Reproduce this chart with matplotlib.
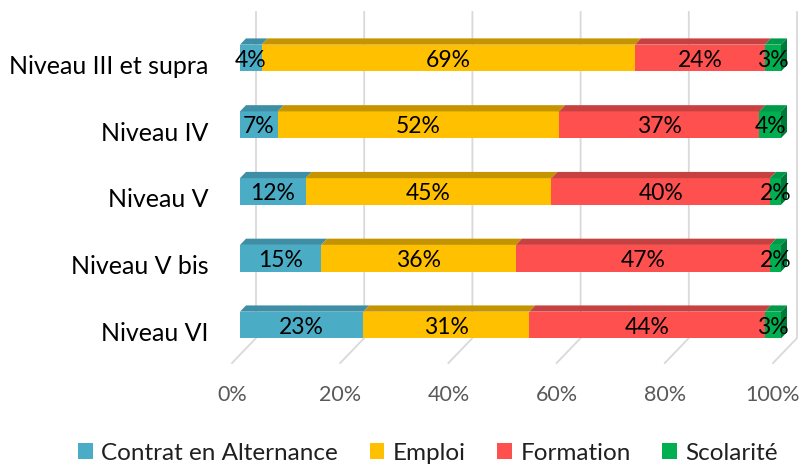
import matplotlib
matplotlib.use("Agg")
import matplotlib.pyplot as plt
from matplotlib.patches import Polygon, Patch
import numpy as np

# ---- data ----
categories = ["Niveau III et supra", "Niveau IV", "Niveau V", "Niveau V bis", "Niveau VI"]
series = ["Contrat en Alternance", "Emploi", "Formation", "Scolarité"]
alternance = [4, 7, 12, 15, 23]
emploi = [69, 52, 45, 36, 31]
formation = [24, 37, 40, 47, 44]
scolarite = [3, 4, 2, 2, 3]
ticks = [0, 20, 40, 60, 80, 100]
tick_labels = ["0%", "20%", "40%", "60%", "80%", "100%"]

front_colors = ["#4BACC6", "#FFC000", "#FF5050", "#00B050"]
top_colors = ["#3E8EA6", "#C49500", "#C84141", "#00994A"]
side_color = "#007A3A"

FONT = ["Lato", "DejaVu Sans"]
plt.rcParams["font.family"] = FONT

W, H = 800, 469
fig = plt.figure(figsize=(W / 100, H / 100), dpi=100)
ax = fig.add_axes([240 / W, 1 - 363 / H, 541 / W, (363 - 12) / H])
ax.set_xlim(0, 100)
ax.set_ylim(4.569, -0.689)
ax.axis("off")

SX = 541 / 100.0      # px per percent
SY = 66.75            # px per category
K = 1.04              # vertical px per depth px
D_FRONT, D_BACK, WALL = 8, 14, 24
FLOOR_Y, TOP_Y = 4.445, -0.44
BAR_H = 0.40


def proj(v, yc, d):
    return (v + (d - D_FRONT) / SX, yc - (d - D_FRONT) * K / SY)


# gridlines: back wall + floor
for t in ticks:
    pts = [proj(t, TOP_Y, WALL), proj(t, FLOOR_Y, WALL), proj(t, FLOOR_Y, 0)]
    xs, ys = zip(*pts)
    ax.plot(xs, ys, color="#D9D9D9", lw=1.3, zorder=0, clip_on=False,
            solid_joinstyle="miter")

# tick labels
for t, lab in zip(ticks, tick_labels):
    ax.annotate(lab, proj(t, FLOOR_Y, 0), xytext=(0, -23), textcoords="offset points",
                ha="center", va="center", fontsize=15.5, color="#595959",
                annotation_clip=False)

data = np.array([alternance, emploi, formation, scolarite], dtype=float)
totals = data.sum(axis=0)
ypos = np.arange(len(categories))

for i in range(len(categories)):
    yc = ypos[i]
    left = 0.0
    for s in range(len(series)):
        w = data[s, i] / totals[i] * 100
        ax.barh(yc, w, left=left, height=BAR_H, color=front_colors[s], zorder=3,
                clip_on=False, linewidth=0)
        ytop = yc - BAR_H / 2
        top = Polygon([proj(left, ytop, D_FRONT), proj(left + w, ytop, D_FRONT),
                       proj(left + w, ytop, D_BACK), proj(left, ytop, D_BACK)],
                      closed=True, facecolor=top_colors[s], edgecolor="none",
                      zorder=3, clip_on=False)
        ax.add_patch(top)
        ax.annotate(f"{int(data[s, i])}%", (left + w / 2, yc), xytext=(0, -1.5),
                    textcoords="offset points", ha="center", va="center",
                    fontsize=16.5, color="black", zorder=5, annotation_clip=False)
        left += w
    ybot = yc + BAR_H / 2
    ytop = yc - BAR_H / 2
    side = Polygon([proj(left, ytop, D_FRONT), proj(left, ybot, D_FRONT),
                    proj(left, ybot, D_BACK), proj(left, ytop, D_BACK)],
                   closed=True, facecolor=side_color, edgecolor="none",
                   zorder=3, clip_on=False)
    ax.add_patch(side)
    ax.annotate(categories[i], (0, yc), xytext=(-22.5, -6), textcoords="offset points",
                ha="right", va="center", fontsize=18, color="black",
                annotation_clip=False)

handles = [Patch(facecolor=c, edgecolor="none") for c in front_colors]
fig.legend(handles, series, loc="center", bbox_to_anchor=(428 / W, 1 - 453 / H),
           ncol=4, frameon=False, fontsize=17.5, handlelength=0.6, handleheight=0.6,
           handletextpad=0.35, columnspacing=1.3, labelcolor="#202020")

fig.savefig("out.png", dpi=100)
